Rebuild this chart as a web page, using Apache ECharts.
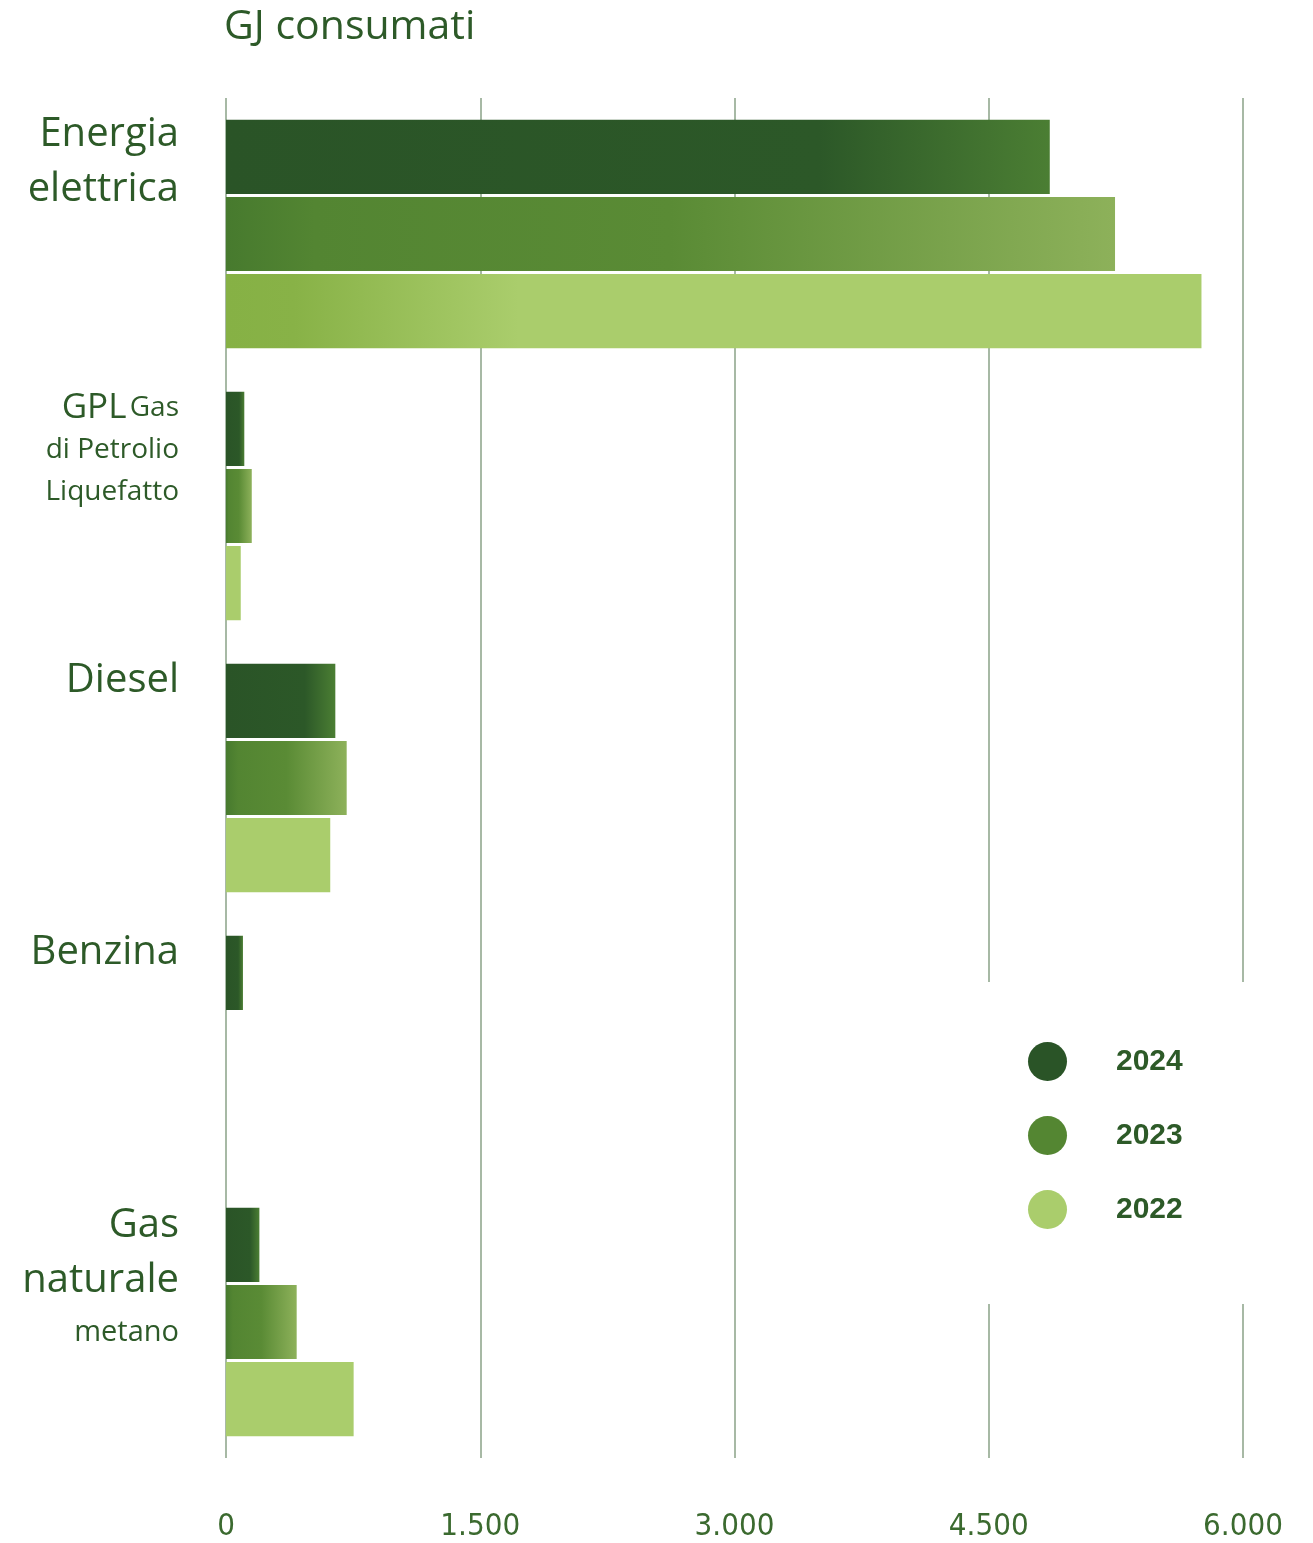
<!DOCTYPE html>
<html><head><meta charset="utf-8">
<script src="https://cdn.jsdelivr.net/npm/echarts@6/dist/echarts.min.js"></script>
<style>html,body{margin:0;padding:0;background:#fff}#c{width:1313px;height:1543px}</style>
</head><body><div id="c"></div>
<script>
// ---- data ----
const categories = ['Energia elettrica', 'GPL Gas di Petrolio Liquefatto', 'Diesel', 'Benzina', 'Gas naturale metano'];
const seriesNames = ['2024', '2023', '2022'];
const values2024 = [4860, 108, 645, 100, 197];
const values2023 = [5245, 152, 712, 0, 417];
const values2022 = [5755, 87, 615, 0, 753];
const xMin = 0, xMax = 6000, xStep = 1500;
const titleText = 'GJ consumati';

// ---- presentation ----
const FONT = "'Open Sans', 'Noto Sans', sans-serif";
const TXT = '#2d5a28';
const labelText = {
  'Energia elettrica': '{b|Energia}\n{b|elettrica}',
  'GPL Gas di Petrolio Liquefatto': '{m|GPL} {s|Gas}\n{s|di Petrolio}\n{s|Liquefatto}',
  'Diesel': '{b|Diesel}',
  'Benzina': '{b|Benzina}',
  'Gas naturale metano': '{b|Gas}\n{b|naturale}\n{t|metano}'
};
const labelPadBottom = [143, 112, 194, 194, 88];
const flatColors = ['#2a5427', '#548632', '#aacd6c'];

const G = echarts.graphic.LinearGradient;
const grad2024 = new G(0, 0, 1, 0, [
  {offset: 0, color: '#2a5427'}, {offset: 0.72, color: '#2c5828'}, {offset: 1, color: '#4b7e33'}]);
const grad2023 = new G(0, 0, 1, 0, [
  {offset: 0, color: '#477a2e'}, {offset: 0.1, color: '#538532'}, {offset: 0.5, color: '#5a8b35'}, {offset: 1, color: '#8db15a'}]);
const grad2022 = new G(0, 0, 1, 0, [
  {offset: 0, color: '#86b145'}, {offset: 0.07, color: '#88b247'}, {offset: 0.3, color: '#aacd6c'}, {offset: 1, color: '#aacd6c'}]);

const chart = echarts.init(document.getElementById('c'), null, {renderer: 'canvas'});

chart.setOption({
  animation: false,
  backgroundColor: '#fff',
  title: {
    text: titleText, left: 224, top: 7, padding: 0,
    textStyle: {fontFamily: FONT, fontSize: 41, fontWeight: 'normal', color: TXT}
  },
  grid: {left: 226, right: 70, top: 98, bottom: 85, containLabel: false},
  legend: {
    data: seriesNames.map((n, i) => ({name: n, itemStyle: {color: flatColors[i]}})),
    orient: 'vertical', left: 985, top: 982,
    icon: 'circle', itemWidth: 39, itemHeight: 39, itemGap: 35,
    padding: [60, 65, 75, 43], backgroundColor: '#fff',
    selectedMode: false,
    textStyle: {fontFamily: "'Liberation Sans', Arial, sans-serif", fontSize: 30, fontWeight: 'bold', color: TXT, padding: [0, 0, 0, 44]}
  },
  xAxis: {
    type: 'value', min: xMin, max: xMax, interval: xStep,
    axisLine: {show: false}, axisTick: {show: false},
    splitLine: {show: true, lineStyle: {color: '#8aa287', width: 1.5}},
    axisLabel: {
      margin: 53, fontSize: 31, color: '#3b6a2f',
      fontFamily: "'Liberation Sans Narrow', 'DejaVu Sans Condensed', 'Roboto Condensed', sans-serif",
      formatter: v => String(v).replace(/\B(?=(\d{3})+(?!\d))/g, '.')
    }
  },
  yAxis: {
    type: 'category', inverse: true,
    data: categories.map((c, i) => ({value: c, textStyle: {padding: [0, 0, labelPadBottom[i], 0]}})),
    axisLine: {show: false}, axisTick: {show: false}, splitLine: {show: false},
    axisLabel: {
      interval: 0, margin: 47, align: 'right', verticalAlign: 'middle',
      formatter: v => labelText[v],
      rich: {
        b: {fontFamily: FONT, fontSize: 40, lineHeight: 55, color: TXT},
        m: {fontFamily: FONT, fontSize: 35, lineHeight: 42, color: TXT},
        s: {fontFamily: FONT, fontSize: 28, lineHeight: 42, color: TXT},
        t: {fontFamily: FONT, fontSize: 29, lineHeight: 49, color: TXT}
      }
    }
  },
  series: [
    {name: seriesNames[0], type: 'bar', data: values2024, barGap: '4%', barCategoryGap: '16%',
     itemStyle: {color: grad2024}, emphasis: {disabled: true}},
    {name: seriesNames[1], type: 'bar', data: values2023, barGap: '4%', barCategoryGap: '16%',
     itemStyle: {color: grad2023}, emphasis: {disabled: true}},
    {name: seriesNames[2], type: 'bar', data: values2022, barGap: '4%', barCategoryGap: '16%',
     itemStyle: {color: p => p.dataIndex === 0 ? grad2022 : flatColors[2]}, emphasis: {disabled: true}}
  ]
});
</script>
</body></html>
